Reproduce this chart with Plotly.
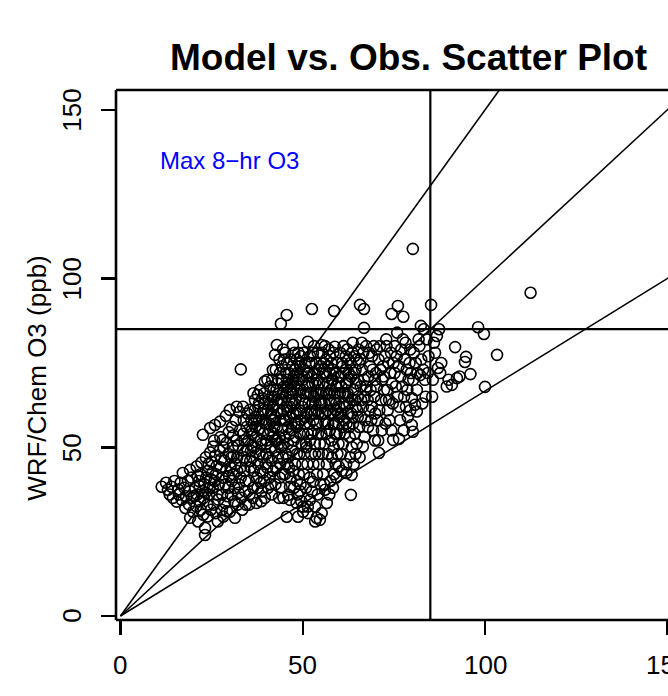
import plotly.graph_objects as go

obs = [
    # 10-15
    11.3, 13.0, 14.0, 14.4, 13.5, 12.5, 14.8,
    # 15-20
    15.4, 16.8, 17.1, 19.1, 19.9, 19.1, 16.0, 17.5, 18.0, 18.5, 19.0, 16.5, 17.8, 19.5, 15.8, 18.8, 19.6,
    # 20-25
    20.9, 21.3, 23.2, 23.2, 22.6, 24.6, 20.5, 21.0, 21.5, 22.0, 22.5, 23.0, 23.5, 24.0, 24.5, 20.8, 21.8,
    22.8, 23.8, 24.3, 24.8, 22.2, 23.4, 24.6, 21.2, 22.7, 23.9, 24.8, 20.2, 21.7, 23.3, 24.2, 22.0,
    # 25-30
    25.0, 25.4, 29.1, 25.9, 27.3, 28.9, 28.1, 26.7, 27.8, 25.3, 25.8, 26.2, 26.5, 27.0, 27.5, 28.0, 28.5,
    29.0, 29.5, 25.6, 26.8, 27.9, 28.7, 29.4, 26.0, 27.2, 28.3, 29.6, 25.2, 26.4, 27.6, 28.8, 29.8, 26.1,
    28.2, 29.2, 27.4, 29.7, 25.7,
    # 30-35
    30.0, 30.0, 31.4, 33.0, 30.5, 31.0, 31.5, 32.0, 32.5, 33.0, 33.5, 34.0, 34.5, 30.3, 31.2, 32.2, 33.2,
    34.2, 30.8, 31.8, 32.8, 33.8, 34.8, 30.6, 31.6, 32.6, 33.6, 34.6, 31.0, 32.0, 33.0, 34.0, 34.9, 30.2,
    31.3, 32.4, 33.4, 34.4, 30.9, 32.3, 33.7, 34.3, 31.9, 30.4, 33.9,
    # 35-40
    35.5, 36.0, 36.9, 37.7, 38.3, 39.6, 37.4, 39.6, 38.7, 35.2, 35.7, 36.2, 36.7, 37.2, 37.7, 38.2, 38.7,
    39.2, 39.7, 35.4, 36.4, 37.4, 38.4, 39.4, 35.9, 36.8, 37.8, 38.8, 39.5, 35.1, 36.1, 37.1, 38.1, 39.1,
    35.6, 36.6, 37.6, 38.6, 39.8, 35.3, 36.3, 37.3, 38.0, 39.3, 36.5, 38.9, 39.9, 35.8, 37.0, 38.5, 39.0,
    # 40-45
    42.9, 42.4, 41.8, 44.0, 40.3, 41.0, 41.5, 42.0, 42.5, 43.0, 43.5, 44.0, 44.5, 40.2, 40.7, 41.2, 41.7,
    42.2, 42.7, 43.2, 43.7, 44.2, 44.7, 40.5, 41.5, 42.5, 43.5, 44.5, 40.8, 41.3, 41.8, 42.3, 42.8, 43.3,
    43.8, 44.3, 44.8, 40.1, 41.1, 42.1, 43.1, 44.1, 44.9, 40.6, 41.6, 42.6, 43.6, 44.6, 40.4, 41.4, 42.4,
    43.4, 44.4, 40.9, 41.9, 42.9, 43.9, 44.7, 43.0, 42.0, 44.2, 40.0, 43.8, 41.2, 44.5,
    # 45-50
    45.6, 47.3, 46.5, 46.0, 46.5, 48.3, 48.7, 45.6,
    45.2, 45.7, 46.2, 46.7, 47.2, 47.7, 48.2, 48.7, 49.2, 49.7,
    45.4, 45.9, 46.4, 46.9, 47.4, 47.9, 48.4, 48.9, 49.4, 49.9,
    45.1, 45.8, 46.6, 47.6, 48.6, 49.6,
    45.3, 45.8, 46.3, 46.8, 47.3, 47.8, 48.3, 48.8, 49.3, 49.8,
    45.5, 46.0, 46.5, 47.0, 47.5, 48.0, 48.5, 49.0, 49.5, 49.9,
    45.2, 46.1, 47.1, 48.1, 49.1,
    45.7, 46.7, 47.7, 48.9, 49.4,
    46.2, 47.3, 48.4, 49.2, 47.9,
    # 50-55
    51.4, 55.2, 52.5, 52.8, 52.5, 50.1, 51.4, 53.4, 51.4, 53.8, 53.4, 54.7, 50.1, 52.0,
    50.2, 50.7, 51.2, 51.7, 52.2, 52.7, 53.2, 53.7, 54.2, 54.7,
    50.4, 50.9, 51.4, 51.9, 52.4, 52.9, 53.4, 53.9, 54.4, 54.9,
    50.3, 51.3, 52.3, 53.3, 54.3,
    50.6, 51.1, 51.6, 52.1, 52.6, 53.1, 53.6, 54.1, 54.6,
    50.8, 51.8, 52.8, 53.8, 54.8,
    50.5, 51.5, 52.5, 53.5, 54.5,
    50.0, 51.0, 52.0, 53.0, 54.0, 55.0,
    50.9, 51.9, 54.1, 53.1, 50.2, 52.4, 54.4,
    # 55-60
    58.8, 58.6, 56.1, 55.2, 56.6, 59.9,
    55.3, 55.8, 56.3, 56.8, 57.3, 57.8, 58.3, 58.8, 59.3, 59.8,
    55.5, 56.0, 56.5, 57.0, 57.5, 58.0, 58.5, 59.0, 59.5,
    55.6, 56.6, 57.6, 58.6,
    55.4, 55.9, 56.4, 56.9, 57.4, 57.9, 58.4, 58.9, 59.4, 59.9,
    55.7, 56.2, 56.7, 57.2, 57.7, 58.2, 58.7, 59.2, 59.7, 59.6,
    55.1, 56.1, 57.1, 57.9, 58.9, 59.8, 56.9, 55.9, 57.3, 58.3, 59.2,
    # 60-65
    63.4, 63.2, 62.0,
    60.3, 60.8, 61.3, 61.8, 62.3, 62.8, 63.3, 63.8, 64.3, 64.8,
    60.5, 61.0, 61.5, 62.0, 62.5, 63.0, 63.5, 64.0, 64.5,
    60.6, 61.1, 61.6, 62.1, 62.6, 63.1, 63.6, 64.1, 64.6,
    60.2, 61.2, 62.2, 63.7, 64.4, 64.9, 60.9, 61.9, 62.9, 60.1, 64.8, 60.4, 62.5, 63.9, 61.4, 60.7,
    # 65-70
    65.7, 66.8, 66.8, 66.5,
    65.3, 65.8, 66.3, 66.8, 67.3, 67.8, 68.3, 68.8, 69.3, 69.8,
    65.5, 66.0, 66.5, 67.0, 67.5, 68.0, 68.5, 69.0, 69.5,
    65.2, 65.9, 66.6, 67.4, 68.2, 69.2, 69.8, 65.6, 66.9, 67.9, 68.9, 69.6, 65.1, 67.1, 68.6, 66.2, 69.9,
    # 70-75
    70.9, 74.8, 74.4,
    70.3, 70.8, 71.3, 71.8, 72.3, 72.8, 73.3, 73.8, 74.3,
    70.5, 71.0, 71.5, 72.0, 72.5, 73.0, 73.5, 74.0, 74.5,
    70.2, 71.2, 72.2, 73.2, 74.2, 74.7, 70.7, 71.7, 72.7, 73.7, 70.1, 72.9, 74.9,
    # 75-80
    76.1, 77.6, 79.9, 79.9,
    75.3, 75.8, 76.3, 76.8, 77.3, 77.8, 78.3, 78.8, 79.3,
    75.5, 76.0, 76.5, 77.0, 77.5, 78.0, 78.5, 79.0, 79.5,
    75.2, 76.7, 77.7, 78.7, 79.7, 75.9, 78.2, 76.4, 79.5,
    # 80-85
    80.2, 82.4, 82.2, 81.3, 80.8, 81.3, 80.2, 80.5, 81.0, 81.5, 82.0, 82.5, 83.0, 83.5, 84.0, 84.5,
    80.3, 81.8, 83.2, 84.3, 83.7, 82.8,
    # 85+
    85.2, 87.4, 85.7, 86.3, 87.1, 87.7, 89.5, 90.9, 92.3, 96.0, 91.8, 94.5, 94.8, 98.1, 99.7, 100.0,
    103.3, 112.5, 86.0, 88.0, 85.5, 86.8, 90.0, 93.0,
    # dense core
    44.5, 45.5, 46.3, 47.2, 48.1, 49.0, 49.8, 50.4, 51.3, 52.2, 53.1, 54.0, 54.9, 55.6, 56.5, 57.4, 58.3,
    59.1, 60.0, 60.9, 61.8, 62.7, 63.6, 64.5, 65.4,
    45.9, 46.8, 47.7, 48.6, 49.5, 50.7, 51.6, 52.5, 53.4, 54.3, 55.2, 56.1, 57.0, 57.9, 58.8, 59.7, 60.6,
    61.5, 62.4, 63.3, 64.2, 65.1, 66.0,
    44.8, 45.7, 46.6, 47.5, 48.4, 49.3, 50.2, 51.1, 52.0, 52.9, 53.8, 54.7, 55.6, 56.5, 57.4, 58.3, 59.2,
    60.1, 61.0, 61.9, 62.8, 63.7, 64.6,
    36.0, 37.0, 38.0, 39.0, 40.0, 41.0, 42.0, 43.0, 44.0, 38.5, 40.5, 42.5, 44.5, 36.5, 39.5, 41.5, 43.5,
]

mod = [
    # 10-15
    38.3, 37.4, 38.3, 35.0, 36.0, 39.5, 40.0,
    # 15-20
    33.9, 34.4, 42.4, 43.3, 30.9, 29.1, 36.0, 38.0, 35.5, 40.0, 37.0, 39.5, 32.0, 41.0, 37.5, 33.0, 35.0,
    # 20-25
    44.3, 28.0, 26.1, 24.0, 53.7, 55.7, 38.0, 36.0, 40.0, 42.0, 37.0, 39.0, 41.0, 43.0, 38.0, 32.5, 34.0,
    35.0, 33.0, 36.0, 40.5, 45.5, 47.0, 48.5, 41.5, 30.0, 29.5, 31.5, 35.5, 38.5, 36.5, 45.0, 31.5,
    # 25-30
    45.7, 50.2, 51.3, 56.6, 57.6, 59.3, 52.2, 28.0, 31.4, 38.0, 40.0, 42.0, 36.0, 39.0, 44.0, 41.0, 46.0,
    43.0, 38.0, 33.0, 34.5, 36.0, 33.5, 35.5, 47.5, 49.0, 50.0, 48.0, 42.5, 44.5, 46.5, 39.0, 41.5, 30.5,
    29.5, 31.0, 53.0, 54.5, 52.0,
    # 30-35
    61.1, 30.9, 29.1, 73.1, 40.0, 42.0, 45.0, 47.0, 39.0, 44.0, 49.0, 52.0, 46.0, 36.0, 34.0, 33.0, 35.0,
    37.0, 50.0, 52.0, 55.0, 58.0, 60.0, 56.0, 58.0, 60.5, 62.0, 56.0, 47.5, 43.0, 41.0, 43.0, 49.0, 44.0,
    38.0, 36.5, 31.5, 33.0, 53.5, 50.5, 54.0, 40.0, 62.0, 47.0, 47.0,
    # 35-40
    61.1, 55.1, 64.0, 65.5, 67.0, 69.5, 58.1, 35.0, 36.9, 40.0, 44.0, 47.0, 50.0, 53.0, 45.0, 48.0, 51.0,
    54.0, 57.0, 36.0, 38.0, 41.0, 43.0, 40.0, 58.0, 61.0, 62.0, 60.0, 63.0, 52.0, 50.5, 48.5, 55.5, 47.0,
    46.0, 43.0, 38.0, 34.0, 45.0, 33.0, 35.0, 33.5, 58.0, 61.0, 66.0, 64.5, 51.0, 49.0, 56.0, 39.5, 42.5,
    # 40-45
    80.3, 77.4, 72.9, 86.6, 70.0, 68.0, 65.0, 62.0, 59.0, 56.0, 53.0, 50.0, 47.0, 44.0, 47.0, 50.0, 53.0,
    56.0, 44.0, 47.0, 41.0, 38.0, 35.0, 38.0, 36.0, 39.0, 35.0, 42.0, 57.0, 60.0, 62.5, 65.0, 67.0, 70.0,
    72.0, 74.0, 76.0, 52.0, 55.0, 58.0, 61.0, 64.0, 68.0, 64.0, 70.0, 73.0, 76.0, 79.0, 61.0, 46.0, 49.0,
    51.0, 55.0, 41.0, 43.0, 52.0, 58.0, 61.0, 64.0, 54.0, 70.0, 48.0, 45.0, 39.0, 50.5,
    # 45-50
    89.2, 80.3, 38.3, 35.9, 34.4, 33.5, 29.4, 29.4,
    78.0, 75.0, 72.0, 69.0, 66.0, 63.0, 60.0, 57.0, 54.0, 51.0,
    48.0, 51.0, 54.0, 57.0, 60.0, 45.0, 48.0, 42.0, 39.0, 45.0,
    42.0, 45.0, 41.0, 38.0, 36.0, 34.0,
    58.0, 61.0, 64.0, 67.0, 70.0, 73.0, 76.0, 78.0, 74.0, 71.0,
    65.0, 68.0, 62.0, 55.0, 52.0, 64.0, 67.0, 61.0, 58.0, 64.0,
    53.0, 47.0, 49.0, 53.0, 48.0,
    70.0, 76.0, 78.0, 70.0, 67.0,
    44.0, 43.0, 40.0, 37.0, 57.0,
    # 50-55
    81.3, 80.3, 91.0, 39.8, 36.9, 32.4, 32.4, 32.4, 30.5, 29.1, 28.0, 28.5, 30.9, 34.4,
    78.0, 75.0, 72.0, 69.0, 66.0, 63.0, 60.0, 57.0, 54.0, 51.0,
    48.0, 51.0, 54.0, 57.0, 60.0, 45.0, 48.0, 42.0, 45.0, 39.0,
    42.0, 45.0, 48.0, 51.0, 60.0,
    57.0, 60.0, 63.0, 66.0, 69.0, 72.0, 75.0, 78.0, 73.0,
    66.0, 75.0, 78.0, 66.0, 63.0,
    63.0, 66.0, 54.0, 63.0, 69.0,
    70.0, 50.0, 52.0, 55.0, 57.0, 66.0,
    38.0, 41.0, 36.0, 80.0, 54.0, 71.0, 48.0,
    # 55-60
    79.8, 90.4, 37.4, 30.5, 33.5, 44.3,
    78.0, 75.0, 72.0, 69.0, 66.0, 63.0, 60.0, 57.0, 54.0, 51.0,
    48.0, 51.0, 54.0, 57.0, 60.0, 47.0, 50.0, 45.0, 48.0,
    42.0, 45.0, 40.0, 42.0,
    60.0, 63.0, 66.0, 69.0, 72.0, 75.0, 78.0, 72.0, 75.0, 69.0,
    69.0, 57.0, 61.0, 64.0, 67.0, 70.0, 66.0, 63.0, 60.0, 66.0,
    54.0, 80.0, 79.0, 52.0, 54.0, 57.0, 48.0, 39.0, 36.0, 38.0, 41.0,
    # 60-65
    41.8, 35.9, 42.4,
    78.0, 75.0, 72.0, 69.0, 66.0, 63.0, 60.0, 57.0, 54.0, 51.0,
    48.0, 51.0, 54.0, 57.0, 60.0, 47.0, 50.0, 45.0, 48.0,
    60.0, 63.0, 66.0, 69.0, 72.0, 75.0, 78.0, 72.0, 69.0,
    66.0, 80.0, 79.0, 81.0, 64.0, 61.0, 56.0, 45.0, 53.0, 54.0, 76.0, 71.0, 76.0, 67.0, 58.0, 43.0,
    # 65-70
    92.2, 91.0, 85.4, 50.2,
    79.0, 76.0, 73.0, 70.0, 67.0, 64.0, 61.0, 58.0, 55.0, 52.0,
    56.0, 59.0, 62.0, 65.0, 68.0, 71.0, 74.0, 77.0, 80.0,
    65.0, 68.0, 78.0, 80.0, 78.0, 73.0, 70.0, 47.0, 53.0, 56.0, 62.0, 65.0, 70.0, 58.0, 67.0, 81.0, 60.0,
    # 70-75
    48.3, 52.2, 89.5,
    79.0, 76.0, 73.0, 70.0, 67.0, 64.0, 61.0, 58.0, 55.0,
    58.0, 61.0, 64.0, 74.0, 77.0, 80.0, 75.0, 72.0, 69.0,
    68.0, 80.0, 71.0, 67.0, 78.0, 63.0, 52.0, 55.0, 57.0, 64.0, 72.0, 82.0, 75.0,
    # 75-80
    91.9, 88.7, 64.6, 56.6,
    80.0, 77.0, 74.0, 71.0, 68.0, 65.0, 62.0, 59.0, 75.0,
    68.0, 65.0, 62.0, 79.0, 82.0, 76.0, 73.0, 70.0, 79.0,
    72.0, 58.0, 55.0, 67.0, 72.0, 84.0, 81.0, 52.5, 61.0,
    # 80-85
    108.8, 86.0, 71.4, 67.0, 62.6, 60.6, 54.6, 78.0, 75.0, 72.0, 80.0, 76.0, 73.0, 70.0, 82.0, 77.0,
    70.0, 82.0, 85.0, 72.0, 65.0, 63.0,
    # 85+
    92.2, 85.0, 70.0, 78.0, 73.5, 72.0, 68.0, 68.5, 70.5, 71.7, 79.7, 75.3, 76.8, 85.6, 83.6, 67.9,
    77.4, 95.8, 81.0, 75.0, 65.0, 83.0, 70.0, 71.0,
    # dense core
    66.0, 72.0, 59.0, 74.0, 69.0, 75.0, 62.0, 73.0, 68.0, 61.0, 65.0, 70.0, 74.0, 66.0, 71.0, 77.0, 73.0,
    68.0, 62.0, 74.0, 77.0, 70.0, 64.0, 73.0, 75.0,
    56.0, 63.0, 68.0, 72.0, 77.0, 59.0, 72.0, 75.0, 69.0, 66.0, 63.0, 60.0, 74.0, 70.0, 64.0, 71.0, 68.0,
    62.0, 65.0, 71.0, 77.0, 59.0, 64.0,
    58.0, 62.0, 66.0, 71.0, 56.0, 60.0, 66.0, 71.0, 77.0, 58.0, 61.0, 64.0, 72.0, 76.0, 55.0, 57.0, 61.0,
    59.0, 66.0, 73.0, 56.0, 59.0, 62.0,
    54.0, 59.0, 63.0, 58.0, 57.0, 63.0, 67.0, 69.0, 60.0, 52.0, 54.0, 52.0, 63.0, 57.0, 66.0, 58.0, 66.0,
]

x_ticks = [0, 50, 100, 150]
y_ticks = [0, 50, 100, 150]
ratio_slopes = [1.5, 1.0, 1 / 1.5]   # reference lines through the origin
threshold = 85                        # 8-hr O3 standard (ppb)
title_text = "Model vs. Obs. Scatter Plot"
y_title = "WRF/Chem O3 (ppb)"
label_text = "Max 8\u2212hr O3"

n = min(len(obs), len(mod))
obs, mod = obs[:n], mod[:n]

X_RANGE = [-1.23, 150.2]
Y_RANGE = [-1.19, 155.9]
FONT = "Liberation Sans, Arial, Helvetica, sans-serif"

fig = go.Figure()

fig.add_trace(go.Scatter(
    x=obs, y=mod, mode="markers",
    marker=dict(symbol="circle-open", size=11, color="black", line=dict(width=1.6, color="black")),
    showlegend=False, hoverinfo="skip",
))

x_end = X_RANGE[1] * 1.2
for s in ratio_slopes:
    fig.add_trace(go.Scatter(
        x=[0, x_end], y=[0, s * x_end], mode="lines",
        line=dict(color="black", width=1.6), showlegend=False, hoverinfo="skip",
    ))

shapes = [
    dict(type="line", xref="x", yref="paper", x0=threshold, x1=threshold, y0=0, y1=1,
         line=dict(color="black", width=2.2)),
    dict(type="line", xref="paper", yref="y", x0=0, x1=1, y0=threshold, y1=threshold,
         line=dict(color="black", width=2.2)),
    dict(type="line", xref="paper", yref="paper", x0=0, x1=0, y0=0, y1=1, line=dict(color="black", width=2.6)),
    dict(type="line", xref="paper", yref="paper", x0=0, x1=1, y0=1, y1=1, line=dict(color="black", width=2.6)),
    dict(type="line", xref="paper", yref="paper", x0=0, x1=1, y0=0, y1=0, line=dict(color="black", width=2.6)),
]

annotations = []
for v in x_ticks:
    annotations.append(dict(x=v, y=-0.085, xref="x", yref="paper", text=str(v), showarrow=False,
                            font=dict(size=26, color="black", family=FONT), xanchor="center", yanchor="middle"))
for v in y_ticks:
    annotations.append(dict(x=-0.08, y=v, xref="paper", yref="y", text=str(v), showarrow=False, textangle=-90,
                            font=dict(size=26, color="black", family=FONT), xanchor="center", yanchor="middle"))
annotations.append(dict(x=0.529, y=1.062, xref="paper", yref="paper", text="<b>" + title_text + "</b>",
                        showarrow=False, font=dict(size=37, color="black", family=FONT),
                        xanchor="center", yanchor="middle"))
annotations.append(dict(x=-0.143, y=0.457, xref="paper", yref="paper", text=y_title, showarrow=False,
                        textangle=-90, font=dict(size=26, color="black", family=FONT),
                        xanchor="center", yanchor="middle"))
annotations.append(dict(x=30, y=135, xref="x", yref="y", text=label_text, showarrow=False,
                        font=dict(size=24, color="#0000FF", family=FONT), xanchor="center", yanchor="middle"))

fig.update_layout(
    width=668, height=696,
    margin=dict(l=116, r=0, t=90, b=76),
    paper_bgcolor="white", plot_bgcolor="white",
    xaxis=dict(range=X_RANGE, showgrid=False, zeroline=False, showline=False,
               tickmode="array", tickvals=x_ticks, ticks="outside", ticklen=14, tickwidth=2.5,
               tickcolor="black", showticklabels=False),
    yaxis=dict(range=Y_RANGE, showgrid=False, zeroline=False, showline=False,
               tickmode="array", tickvals=y_ticks, ticks="outside", ticklen=14, tickwidth=2.5,
               tickcolor="black", showticklabels=False),
    shapes=shapes, annotations=annotations,
    font=dict(family=FONT),
)

# remove the default page margin so the figure fills the window exactly; no mode bar
fig.write_html(
    "out.html",
    config={"displayModeBar": False, "staticPlot": True},
    post_script="document.body.style.margin='0';document.documentElement.style.overflow='hidden';",
)
